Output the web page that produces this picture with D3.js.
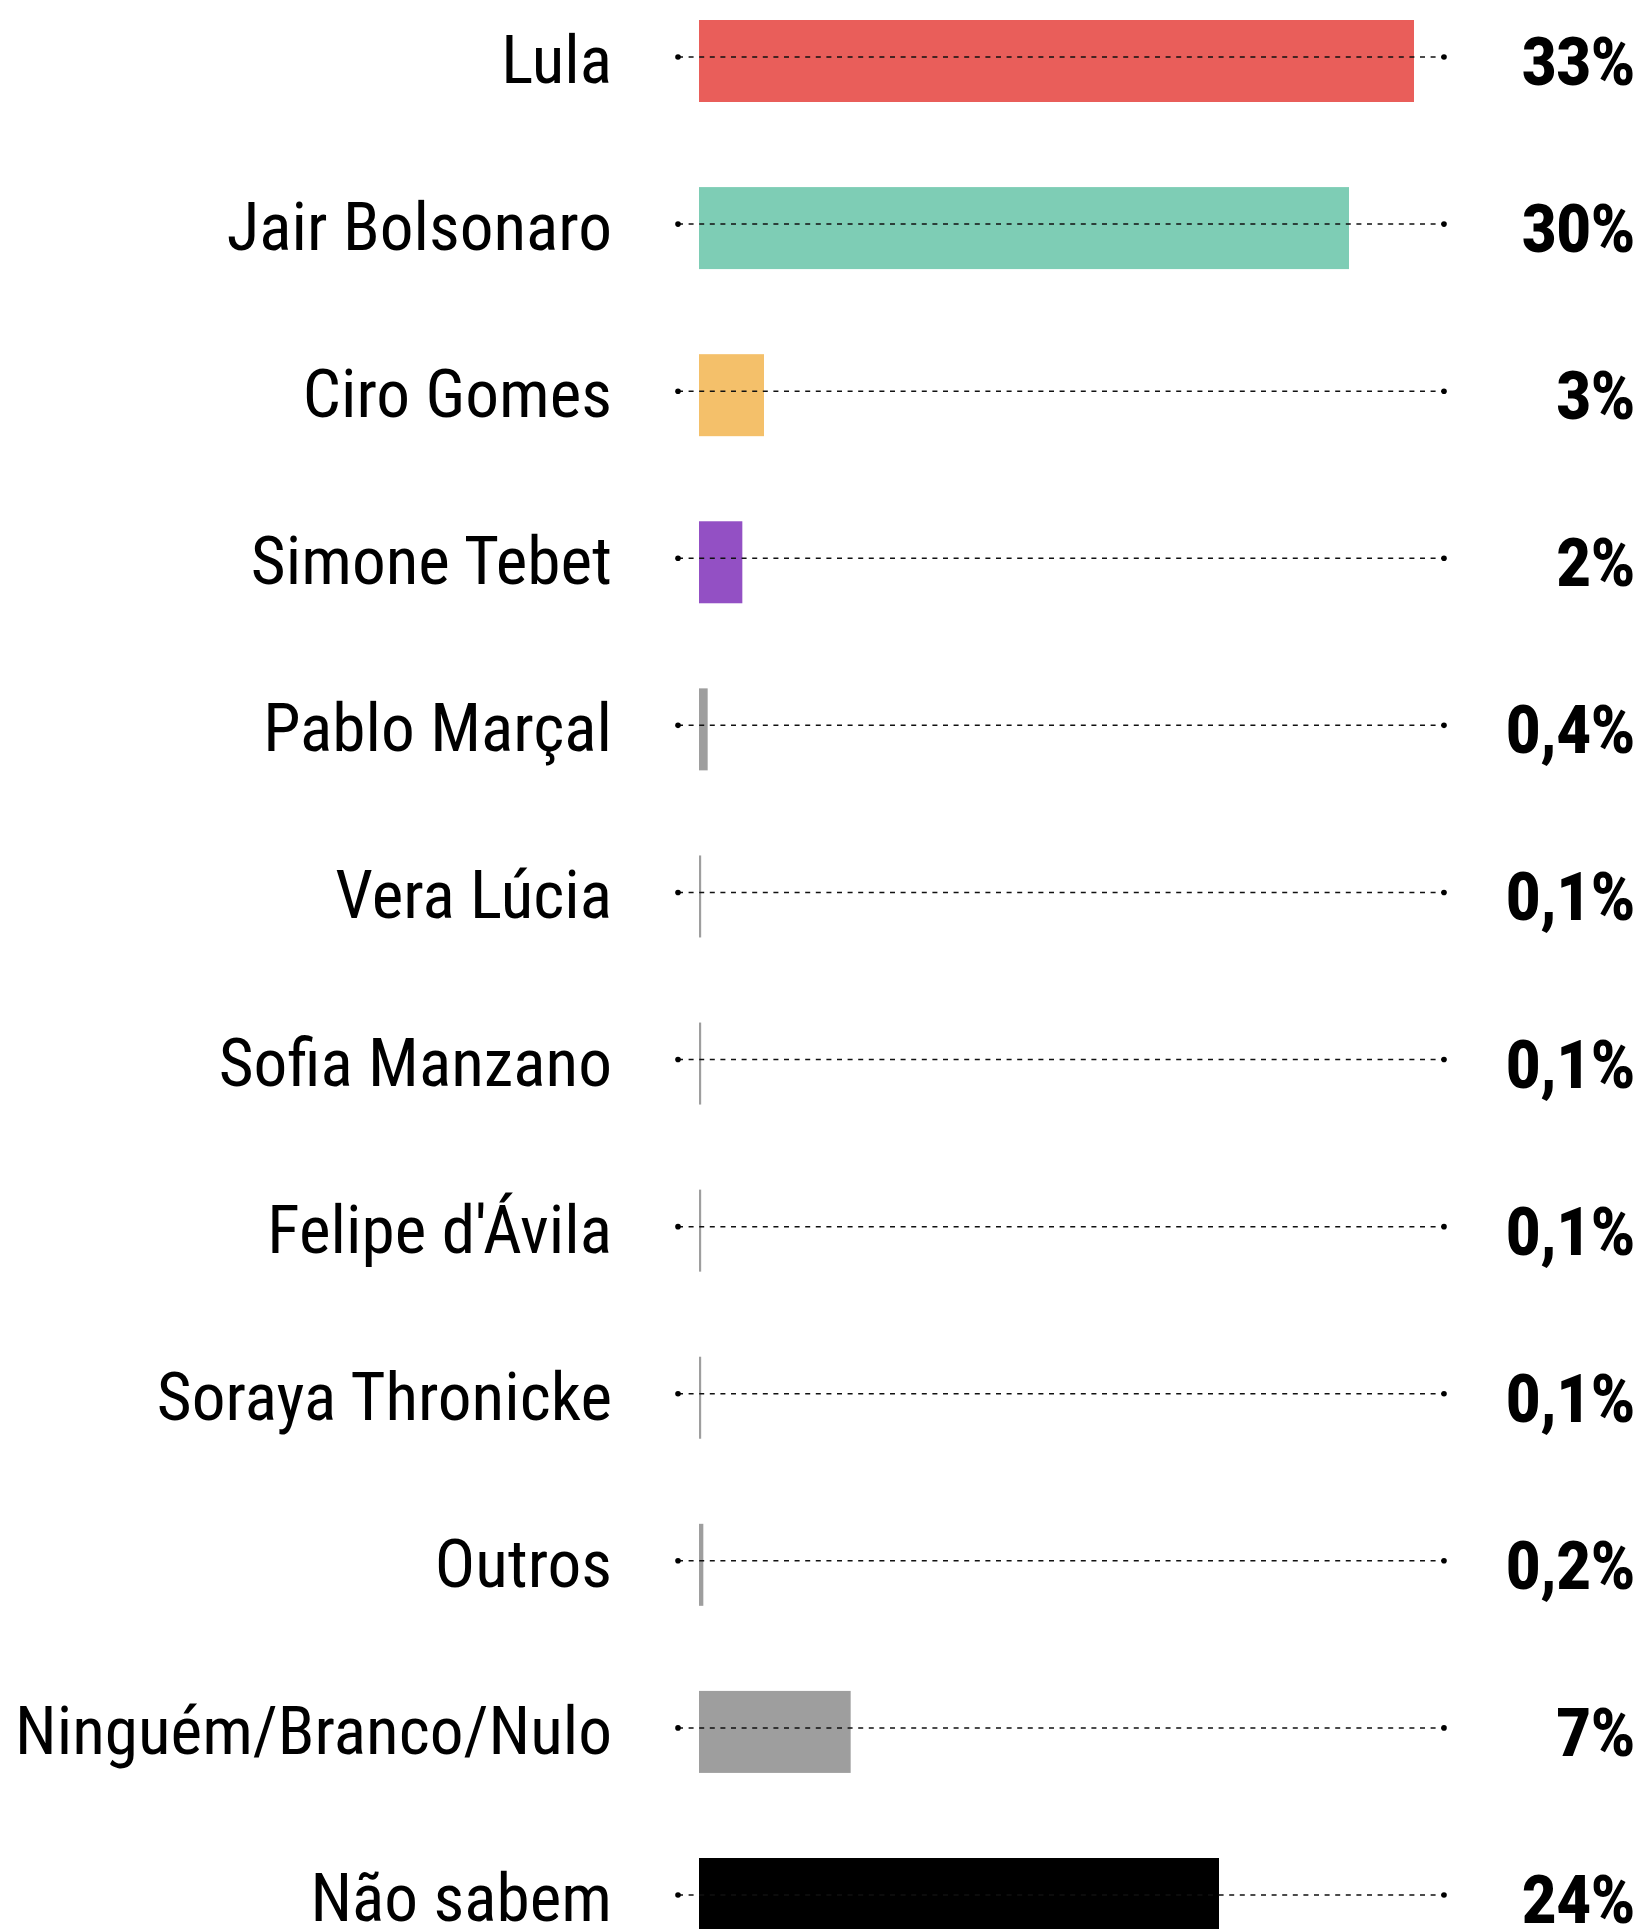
<!DOCTYPE html>
<html>
<head>
<meta charset="utf-8">
<script src="https://cdn.jsdelivr.net/npm/d3@7"></script>
<style>
  html, body { margin: 0; padding: 0; background: #fff; }
  svg { display: block; }
  .lbl { font-family: "Liberation Sans Narrow", "Roboto Condensed", "DejaVu Sans Condensed", "Roboto", sans-serif; font-stretch: condensed; }
  .val { font-family: "Roboto", "Inter", sans-serif; }
</style>
</head>
<body>
<svg id="chart" width="1645" height="1929"></svg>
<script>
const categories = ["Lula", "Jair Bolsonaro", "Ciro Gomes", "Simone Tebet", "Pablo Marçal", "Vera Lúcia", "Sofia Manzano", "Felipe d'Ávila", "Soraya Thronicke", "Outros", "Ninguém/Branco/Nulo", "Não sabem"];
const values = [33, 30, 3, 2, 0.4, 0.1, 0.1, 0.1, 0.1, 0.2, 7, 24];
const valueLabels = ["33%", "30%", "3%", "2%", "0,4%", "0,1%", "0,1%", "0,1%", "0,1%", "0,2%", "7%", "24%"];
const colors = ["#E95E5A", "#7ECDB5", "#F4C06A", "#9350C4", "#9E9E9E", "#9E9E9E", "#9E9E9E", "#9E9E9E", "#9E9E9E", "#9E9E9E", "#9E9E9E", "#000000"];

const svg = d3.select("#chart");
const x = d3.scaleLinear().domain([0, 33]).range([699, 1414]);
const y = d3.scalePoint().domain(categories).range([57, 1895]);

const barTop = 37, barH = 82;
const lineX0 = 678, lineX1 = 1444;

const rows = svg.selectAll("g.row").data(categories).join("g").attr("class", "row");

// bars
rows.append("rect")
  .attr("x", x(0))
  .attr("y", d => y(d) - barTop)
  .attr("width", (d, i) => x(values[i]) - x(0))
  .attr("height", barH)
  .attr("fill", (d, i) => colors[i]);

// dashed guide lines
rows.append("line")
  .attr("x1", lineX0).attr("x2", lineX1)
  .attr("y1", d => y(d)).attr("y2", d => y(d))
  .attr("stroke", "#111").attr("stroke-width", 1.5)
  .attr("stroke-dasharray", "5,5.6");
rows.append("circle").attr("cx", lineX0).attr("cy", d => y(d)).attr("r", 2.8).attr("fill", "#000");
rows.append("circle").attr("cx", lineX1).attr("cy", d => y(d)).attr("r", 2.8).attr("fill", "#000");

// category labels
const labels = rows.append("text")
  .attr("class", "lbl")
  .attr("text-anchor", "end")
  .attr("x", 0).attr("y", 0)
  .attr("font-size", 66)
  .attr("fill", "#000")
  .text(d => d);

// value labels
const vals = rows.append("text")
  .attr("class", "val")
  .attr("text-anchor", "end")
  .attr("x", 0).attr("y", 0)
  .attr("font-size", 67)
  .attr("font-weight", 900)
  .attr("fill", "#000")
  .text((d, i) => valueLabels[i]);

// horizontal fit to reference widths
const wLabel = labels.nodes()[10].getComputedTextLength();
const sxL = 597 / wLabel;
labels.attr("transform", d => `translate(612,${y(d) + 26}) scale(${sxL},1)`);
const wVal = vals.nodes()[0].getComputedTextLength();
const sxV = 113 / wVal;
vals.attr("transform", d => `translate(1635,${y(d) + 28}) scale(${sxV},1)`);
</script>
</body>
</html>
